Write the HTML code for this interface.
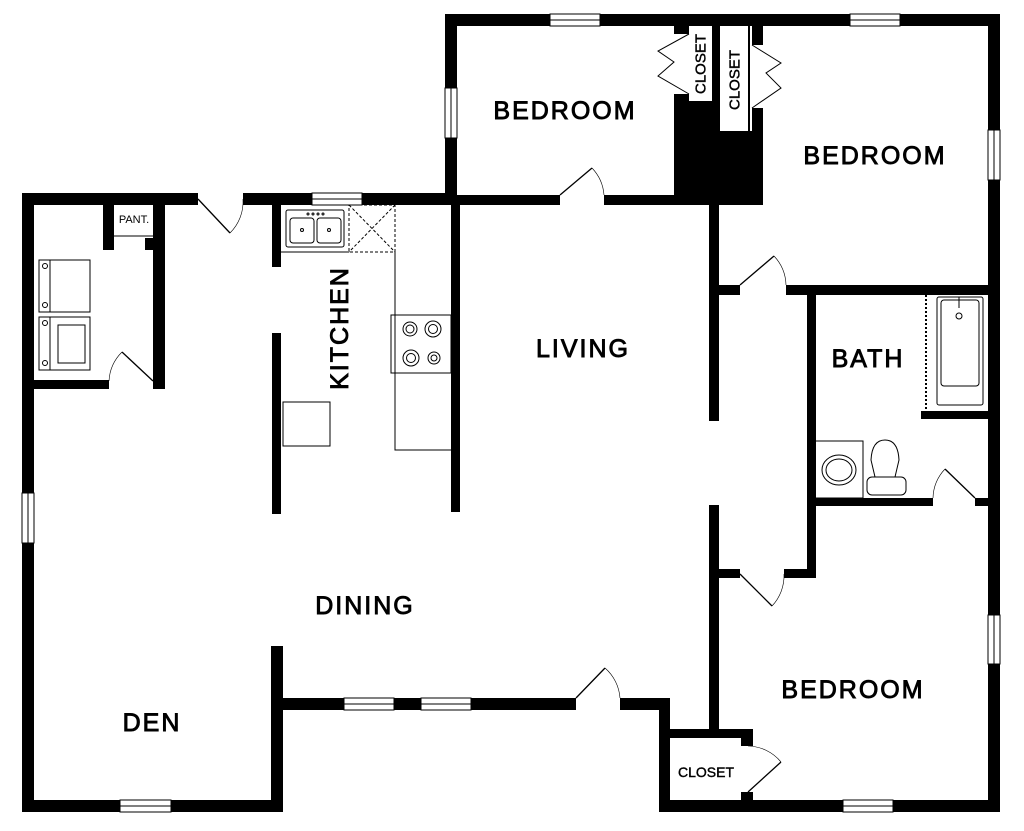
<!DOCTYPE html>
<html><head><meta charset="utf-8"><style>
html,body{margin:0;padding:0;background:#fff;width:1024px;height:831px;overflow:hidden}
svg{display:block}
text{font-family:"Liberation Sans",sans-serif;fill:#000}
</style></head><body>
<svg width="1024" height="831" viewBox="0 0 1024 831" xmlns="http://www.w3.org/2000/svg">
<g fill="#000">
<rect x="22" y="193" width="12" height="619"/>
<rect x="22" y="193" width="176" height="12"/>
<rect x="243" y="193" width="214" height="12"/>
<rect x="445" y="14" width="12" height="191"/>
<rect x="445" y="14" width="555" height="12"/>
<rect x="988" y="14" width="12" height="798"/>
<rect x="445" y="195" width="115" height="10"/>
<rect x="604" y="195" width="75" height="10"/>
<rect x="674" y="26" width="89" height="179"/>
<rect x="709" y="195" width="10" height="226"/>
<rect x="709" y="505" width="10" height="225"/>
<rect x="709" y="285" width="31" height="10"/>
<rect x="786" y="285" width="214" height="10"/>
<rect x="807" y="285" width="9" height="293"/>
<rect x="921" y="411" width="69" height="8"/>
<rect x="815" y="498" width="118" height="8"/>
<rect x="975" y="498" width="15" height="8"/>
<rect x="784" y="569" width="32" height="9"/>
<rect x="717" y="569" width="23" height="9"/>
<rect x="660" y="800" width="340" height="12"/>
<rect x="659" y="698" width="11" height="114"/>
<rect x="660" y="729" width="93" height="9"/>
<rect x="741" y="738" width="12" height="8"/>
<rect x="741" y="792" width="12" height="8"/>
<rect x="280" y="698" width="296" height="12"/>
<rect x="620" y="698" width="50" height="12"/>
<rect x="271" y="646" width="12" height="166"/>
<rect x="22" y="800" width="261" height="12"/>
<rect x="272" y="205" width="9" height="62"/>
<rect x="272" y="333" width="9" height="181"/>
<rect x="451" y="205" width="9" height="307"/>
<rect x="153" y="205" width="12" height="184"/>
<rect x="34" y="380" width="75" height="9"/>
<rect x="103" y="205" width="11" height="45"/>
<rect x="145" y="238" width="8" height="12"/>
</g>
<g fill="#fff">
<rect x="674" y="34" width="15" height="60"/>
<rect x="752" y="45" width="11" height="63"/>
<rect x="689" y="26" width="23" height="75"/>
<rect x="720" y="26" width="28" height="105"/>
<rect x="750" y="26" width="2" height="105"/>
</g>
<g fill="none" stroke="#000" stroke-width="1">
<polyline points="689,34 658,51 674,62 658,76 689,94"/>
<polyline points="752,45 781,63 766,73 781,88 752,108"/>
</g>
<text x="701" y="64" font-size="15" transform="rotate(-90 701 64)" text-anchor="middle" dominant-baseline="central" stroke="#000" stroke-width=".4">CLOSET</text>
<text x="735" y="80" font-size="15" transform="rotate(-90 735 80)" text-anchor="middle" dominant-baseline="central" stroke="#000" stroke-width=".4">CLOSET</text>
<g fill="#fff" stroke="#000" stroke-width="1">
<rect x="550" y="14" width="50" height="12"/>
<rect x="850" y="14" width="50" height="12"/>
<rect x="445" y="88" width="12" height="50"/>
<rect x="988" y="130" width="12" height="50"/>
<rect x="312" y="193" width="50" height="12"/>
<rect x="22" y="493" width="12" height="50"/>
<rect x="120" y="800" width="51" height="12"/>
<rect x="344" y="698" width="50" height="12"/>
<rect x="421" y="698" width="50" height="12"/>
<rect x="988" y="615" width="12" height="49"/>
<rect x="843" y="800" width="50" height="12"/>
</g>
<g stroke="#000" stroke-width="1">
<line x1="550" y1="20" x2="600" y2="20"/><line x1="850" y1="20" x2="900" y2="20"/>
<line x1="451" y1="88" x2="451" y2="138"/><line x1="994" y1="130" x2="994" y2="180"/>
<line x1="312" y1="199" x2="362" y2="199"/><line x1="28" y1="493" x2="28" y2="543"/>
<line x1="120" y1="806" x2="171" y2="806"/><line x1="344" y1="704" x2="394" y2="704"/>
<line x1="421" y1="704" x2="471" y2="704"/><line x1="994" y1="615" x2="994" y2="664"/>
<line x1="843" y1="806" x2="893" y2="806"/>
</g>
<g fill="none" stroke="#000" stroke-width="1.3">
<line x1="198" y1="199" x2="230" y2="233"/><path d="M230,233 A44,44 0 0 0 243,199" stroke-width=".6"/>
<line x1="560" y1="195" x2="592" y2="168"/><path d="M592,168 A44,44 0 0 1 604,195" stroke-width=".6"/>
<line x1="740" y1="285" x2="774" y2="256"/><path d="M774,256 A44,44 0 0 1 786,285" stroke-width=".6"/>
<line x1="975" y1="498" x2="945" y2="469"/><path d="M945,469 A44,44 0 0 0 933,498" stroke-width=".6"/>
<line x1="740" y1="574" x2="772" y2="606"/><path d="M772,606 A44,44 0 0 0 784,574" stroke-width=".6"/>
<line x1="576" y1="698" x2="605" y2="668"/><path d="M605,668 A44,44 0 0 1 620,698" stroke-width=".6"/>
<line x1="153" y1="381" x2="122" y2="352"/><path d="M122,352 A44,44 0 0 0 109,381" stroke-width=".6"/>
<line x1="748" y1="792" x2="781" y2="762"/><path d="M781,762 A44,44 0 0 0 748,746" stroke-width=".6"/>
</g>
<g fill="none" stroke="#000" stroke-width="1">
<line x1="114" y1="236" x2="153" y2="236"/>
<rect x="39" y="260" width="51" height="52"/><line x1="50" y1="260" x2="50" y2="312"/>
<circle cx="45" cy="266" r="2.5"/><circle cx="45" cy="305" r="2.5"/>
<rect x="39" y="317" width="51" height="53"/><line x1="50" y1="317" x2="50" y2="370"/>
<rect x="58" y="325" width="27" height="38"/>
<circle cx="45" cy="323" r="2.5"/><circle cx="45" cy="363" r="2.5"/>
<line x1="281" y1="252" x2="349" y2="252"/>
<rect x="286" y="210" width="58" height="37" rx="2"/>
<rect x="290" y="218" width="24" height="25" rx="3"/><rect x="317" y="218" width="24" height="25" rx="3"/>
<circle cx="302" cy="230" r="1.5"/><circle cx="329" cy="230" r="1.5"/>
<circle cx="308" cy="214" r="1"/><circle cx="313" cy="214" r="1"/><circle cx="318" cy="214" r="1"/><circle cx="323" cy="214" r="1"/>
<rect x="349" y="205" width="46" height="47" stroke-dasharray="3,2"/>
<line x1="349" y1="205" x2="395" y2="252" stroke-dasharray="3,2"/><line x1="395" y1="205" x2="349" y2="252" stroke-dasharray="3,2"/>
<polyline points="395,252 395,450 451,450"/>
<rect x="391" y="315" width="60" height="58"/>
<circle cx="410" cy="329" r="7"/><circle cx="410" cy="329" r="4"/><circle cx="433" cy="329" r="8"/><circle cx="433" cy="329" r="4.5"/>
<circle cx="411" cy="358" r="8"/><circle cx="411" cy="358" r="4.5"/><circle cx="434" cy="358" r="6"/><circle cx="434" cy="358" r="3"/>
<rect x="283" y="402" width="47" height="44"/>
<rect x="937" y="297" width="46" height="108" rx="2"/><rect x="941" y="300" width="38" height="86" rx="3"/>
<circle cx="959" cy="316" r="3"/><line x1="959" y1="297" x2="959" y2="308"/>
<line x1="926" y1="295" x2="926" y2="411" stroke-dasharray="2,2" stroke-width="2"/>
<rect x="815" y="441" width="48" height="57"/>
<ellipse cx="839" cy="470" rx="17" ry="15"/><ellipse cx="839" cy="470" rx="13" ry="11"/>
<path d="M875,477 L871,460 Q872,440 885,440 Q898,440 899,460 L895,477 Z"/>
<rect x="867" y="477" width="39" height="18" rx="5"/>
</g>
<g font-size="25" letter-spacing="2" stroke="#000" stroke-width=".9">
<text x="565" y="119" text-anchor="middle">BEDROOM</text>
<text x="875" y="164" text-anchor="middle">BEDROOM</text>
<text x="583" y="357" text-anchor="middle">LIVING</text>
<text x="868" y="367" text-anchor="middle">BATH</text>
<text x="365" y="614" text-anchor="middle">DINING</text>
<text x="152" y="731" text-anchor="middle">DEN</text>
<text x="853" y="698" text-anchor="middle">BEDROOM</text>
<text x="340" y="328" text-anchor="middle" dominant-baseline="central" transform="rotate(-90 340 328)">KITCHEN</text>
</g>
<text x="706" y="777" font-size="14" text-anchor="middle" stroke="#000" stroke-width=".4">CLOSET</text>
<text x="134" y="223" font-size="11" text-anchor="middle">PANT.</text>
</svg>
</body></html>
